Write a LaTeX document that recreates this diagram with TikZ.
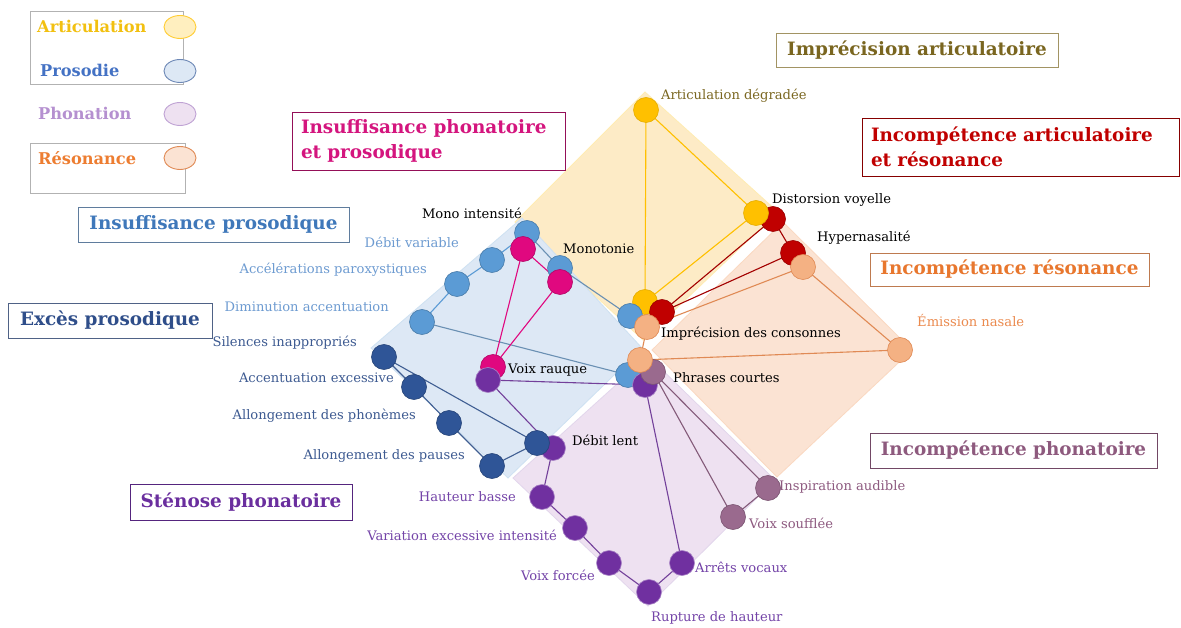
\documentclass[tikz,border=0pt]{standalone}
\usepackage{fontspec}
\setmainfont{DejaVu Serif}
\definecolor{cYel}{HTML}{FFC000}
\definecolor{cYelF}{HTML}{FDEBC6}
\definecolor{cRed}{HTML}{C00000}
\definecolor{cOra}{HTML}{F4B183}
\definecolor{cOraD}{HTML}{E08A55}
\definecolor{cOraF}{HTML}{FBE3D3}
\definecolor{cBlu}{HTML}{5B9BD5}
\definecolor{cBluF}{HTML}{DDE8F5}
\definecolor{cDbl}{HTML}{2F5597}
\definecolor{cMag}{HTML}{E0087F}
\definecolor{cPur}{HTML}{7030A0}
\definecolor{cPurF}{HTML}{EEE1F1}
\definecolor{cMau}{HTML}{9A6A8E}
\definecolor{tOlive}{HTML}{7A6620}
\definecolor{tLblue}{HTML}{6D9BD1}
\definecolor{tDblue}{HTML}{3D5A91}
\definecolor{tPur}{HTML}{7444A8}
\definecolor{tMau}{HTML}{8E5A80}
\definecolor{tOra}{HTML}{EB8A4E}
\definecolor{tMagT}{HTML}{D4157E}
\definecolor{tRedT}{HTML}{C00000}
\definecolor{tOraT}{HTML}{E8772E}
\definecolor{tBluT}{HTML}{3F78BA}
\definecolor{tDblT}{HTML}{2F4E8A}
\definecolor{tPurT}{HTML}{6A2E9E}
\definecolor{tMauT}{HTML}{8E5A7E}
\definecolor{tLegY}{HTML}{F2C010}
\definecolor{tLegB}{HTML}{4472C4}
\definecolor{tLegP}{HTML}{B590D0}
\definecolor{tLegO}{HTML}{ED7D31}
\newcommand{\labfont}{\fontsize{13.1pt}{15pt}\selectfont}
\newcommand{\ttlfont}{\bfseries\fontsize{18.4pt}{25pt}\selectfont}
\newcommand{\legfont}{\bfseries\fontsize{16.2pt}{18pt}\selectfont}
\tikzset{
  dot/.style={circle, minimum size=25pt, inner sep=0pt, line width=0.6pt},
  lab/.style={inner sep=0pt, font=\labfont},
  ttl/.style={draw, line width=0.9pt, inner sep=0pt, font=\ttlfont},
  ttltwo/.style={draw, line width=0.9pt, inner xsep=9pt, inner ysep=0pt, font=\ttlfont, align=left},
  edge/.style={line width=1.1pt},
  region/.style={line width=0.8pt},
  leg/.style={inner sep=0pt, font=\legfont, anchor=west},
  legell/.style={ellipse, minimum width=32pt, minimum height=23pt, inner sep=0pt, line width=0.9pt},
}
\usetikzlibrary{shapes.geometric}
\begin{document}
\begin{tikzpicture}[x=1pt,y=-1pt]
\useasboundingbox (0,0) rectangle (1181,628);
\fill[white] (0,0) rectangle (1181,628);
% regions
\filldraw[region, fill=cYelF, draw=cYel!30] (645,92) -- (778,212) -- (643,340) -- (515,222) -- cycle;
\filldraw[region, fill=cOraF, draw=cOra!50] (783,222) -- (912,350) -- (777,477) -- (652,350) -- cycle;
\filldraw[region, fill=cBluF, draw=cBlu!30] (522,218) -- (642,348) -- (508,478) -- (371,348) -- cycle;
\filldraw[region, fill=cPurF, draw=cPur!20] (648,356) -- (775,480) -- (648,606) -- (513,478) -- cycle;
% legend
\draw[gray!60, line width=0.8pt] (30,11) rectangle (183,84);
\draw[gray!60, line width=0.8pt] (30,143) rectangle (185,193);
\node[leg, text=tLegY] (lgA) at (37,26) {Articulation};
\node[leg, text=tLegB] (lgB) at (40,70) {Prosodie};
\node[leg, text=tLegP] (lgC) at (38,113) {Phonation};
\node[leg, text=tLegO] (lgD) at (38,158) {Résonance};
\node[legell, fill=cYel!25, draw=cYel!80] (elA) at (180,27) {};
\node[legell, fill=cBluF, draw=cDbl!70] (elB) at (180,71) {};
\node[legell, fill=cPurF, draw=cPur!45] (elC) at (180,114) {};
\node[legell, fill=cOraF, draw=cOraD] (elD) at (180,158) {};
% titles
\node[ttl, draw=tOlive!70, text=tOlive, minimum width=282pt, minimum height=34pt] (tImp) at (917,50) {Imprécision articulatoire};
\node[ttltwo, draw=tMagT!70!black, text=tMagT, text width=255pt, minimum height=58pt] (tInsPP) at (428.5,141) {Insuffisance phonatoire\\et prosodique};
\node[ttltwo, draw=tRedT!70!black, text=tRedT, text width=299pt, minimum height=58pt] (tIncAR) at (1020.5,147) {Incompétence articulatoire\\et résonance};
\node[ttl, draw=tOraT!60!gray, text=tOraT, minimum width=279pt, minimum height=33pt] (tIncR) at (1009.5,269.5) {Incompétence résonance};
\node[ttl, draw=tBluT!50!gray, text=tBluT, minimum width=271pt, minimum height=35pt] (tInsP) at (213.5,224.5) {Insuffisance prosodique};
\node[ttl, draw=tDblT!60!gray, text=tDblT, minimum width=204pt, minimum height=35pt] (tExc) at (110,320.5) {Excès prosodique};
\node[ttl, draw=tMauT!80!black, text=tMauT, minimum width=287pt, minimum height=35pt] (tIncP) at (1013.5,450.5) {Incompétence phonatoire};
\node[ttl, draw=tPurT!80!black, text=tPurT, minimum width=222pt, minimum height=36pt] (tSte) at (241,502) {Sténose phonatoire};
% node coordinates
\coordinate (A1) at (646,110);
\coordinate (A2) at (756,213);
\coordinate (A3) at (645,302);
\coordinate (R1) at (773,219);
\coordinate (R2) at (793,253);
\coordinate (R3) at (662,312);
\coordinate (O1) at (803,267);
\coordinate (O2) at (900,350);
\coordinate (O3) at (647,327);
\coordinate (O4) at (640,360);
\coordinate (B1) at (527,233);
\coordinate (B2) at (492,260);
\coordinate (B3) at (457,284);
\coordinate (B4) at (422,322);
\coordinate (B5) at (560,268);
\coordinate (B6) at (630,316);
\coordinate (B7) at (628,375);
\coordinate (D1) at (384,357);
\coordinate (D2) at (414,387);
\coordinate (D3) at (449,423);
\coordinate (D4) at (492,466);
\coordinate (D5) at (537,443);
\coordinate (M1) at (523,249);
\coordinate (M2) at (560,282);
\coordinate (M3) at (493,367);
\coordinate (P1) at (488,380);
\coordinate (P2) at (645,385);
\coordinate (P3) at (553,448);
\coordinate (P4) at (542,497);
\coordinate (P5) at (575,528);
\coordinate (P6) at (609,563);
\coordinate (P7) at (649,592);
\coordinate (P8) at (682,563);
\coordinate (V1) at (653,372);
\coordinate (V2) at (768,488);
\coordinate (V3) at (733,517);
% edges
\draw[edge, cYel] (A1) -- (A2) (A1) -- (A3) (A2) -- (A3);
\draw[edge, cRed!85!black] (R1) -- (R3) (R2) -- (R3) (R1) -- (R2);
\draw[edge, cOraD] (O1) -- (O3) (O1) -- (O2) (O2) -- (O4) (O3) -- (O4);
\draw[edge, cBlu] (B1) -- (B2) -- (B3) -- (B4);
\draw[edge, cBlu!60!gray] (B1) -- (B5) -- (B6) (B4) -- (B7);
\draw[edge, cDbl!80!gray] (D1) -- (D2) -- (D3) -- (D4) -- (D5) (D1) -- (D5);
\draw[edge, cMag] (M1) -- (M2) -- (M3) -- (M1);
\draw[edge, cPur!80!gray] (P1) -- (P2) (P1) -- (P3) -- (P4) -- (P5) -- (P6) -- (P7) -- (P8) -- (P2);
\draw[edge, cMau!85!black] (V1) -- (V2) -- (V3) -- (V1);
% dots
\node[dot, fill=cRed, draw=cRed!80!black] (nR1) at (R1) {};
\node[dot, fill=cRed, draw=cRed!80!black] (nR2) at (R2) {};
\node[dot, fill=cYel, draw=cYel!90!black] (nA1) at (A1) {};
\node[dot, fill=cYel, draw=cYel!90!black] (nA2) at (A2) {};
\node[dot, fill=cYel, draw=cYel!90!black] (nA3) at (A3) {};
\node[dot, fill=cBlu, draw=cBlu!80!black] (nB6) at (B6) {};
\node[dot, fill=cRed, draw=cRed!80!black] (nR3) at (R3) {};
\node[dot, fill=cOra, draw=cOraD] (nO1) at (O1) {};
\node[dot, fill=cOra, draw=cOraD] (nO2) at (O2) {};
\node[dot, fill=cOra, draw=cOraD] (nO3) at (O3) {};
\node[dot, fill=cBlu, draw=cBlu!80!black] (nB1) at (B1) {};
\node[dot, fill=cBlu, draw=cBlu!80!black] (nB2) at (B2) {};
\node[dot, fill=cBlu, draw=cBlu!80!black] (nB3) at (B3) {};
\node[dot, fill=cBlu, draw=cBlu!80!black] (nB4) at (B4) {};
\node[dot, fill=cBlu, draw=cBlu!80!black] (nB5) at (B5) {};
\node[dot, fill=cBlu, draw=cBlu!80!black] (nB7) at (B7) {};
\node[dot, fill=cMag, draw=cMag!80!black] (nM1) at (M1) {};
\node[dot, fill=cMag, draw=cMag!80!black] (nM2) at (M2) {};
\node[dot, fill=cMag, draw=cMag!80!black] (nM3) at (M3) {};
\node[dot, fill=cDbl, draw=cDbl!80!black] (nD1) at (D1) {};
\node[dot, fill=cDbl, draw=cDbl!80!black] (nD2) at (D2) {};
\node[dot, fill=cDbl, draw=cDbl!80!black] (nD3) at (D3) {};
\node[dot, fill=cDbl, draw=cDbl!80!black] (nD4) at (D4) {};
\node[dot, fill=cPur, draw=cPur!60] (nP3) at (P3) {};
\node[dot, fill=cDbl, draw=cDbl!80!black] (nD5) at (D5) {};
\node[dot, fill=cPur, draw=cPur!60] (nP1) at (P1) {};
\node[dot, fill=cPur, draw=cPur!60] (nP2) at (P2) {};
\node[dot, fill=cPur, draw=cPur!60] (nP4) at (P4) {};
\node[dot, fill=cPur, draw=cPur!60] (nP5) at (P5) {};
\node[dot, fill=cPur, draw=cPur!60] (nP6) at (P6) {};
\node[dot, fill=cPur, draw=cPur!60] (nP7) at (P7) {};
\node[dot, fill=cPur, draw=cPur!60] (nP8) at (P8) {};
\node[dot, fill=cMau, draw=cMau!80!black] (nV1) at (V1) {};
\node[dot, fill=cMau, draw=cMau!80!black] (nV2) at (V2) {};
\node[dot, fill=cMau, draw=cMau!80!black] (nV3) at (V3) {};
\node[dot, fill=cOra, draw=cOraD] (nO4) at (O4) {};
% labels
\node[lab, anchor=west, text=tOlive] (lA1) at (661,96) {Articulation dégradée};
\node[lab, anchor=west] (lA2) at (772,200) {Distorsion voyelle};
\node[lab, anchor=west] (lO1) at (817,238) {Hypernasalité};
\node[lab, anchor=west, text=tOra] (lO2) at (917,321) {Émission nasale};
\node[lab, anchor=west] (lA3) at (661,334) {Imprécision des consonnes};
\node[lab, anchor=west] (lP2) at (673,378) {Phrases courtes};
\node[lab, anchor=west] (lB5) at (563,249) {Monotonie};
\node[lab, anchor=east] (lB1) at (522,213) {Mono intensité};
\node[lab, anchor=east, text=tLblue] (lB2) at (459,242) {Débit variable};
\node[lab, anchor=east, text=tLblue] (lB3) at (427,270) {Accélérations paroxystiques};
\node[lab, anchor=east, text=tLblue] (lB4) at (389,307) {Diminution accentuation};
\node[lab, anchor=east, text=tDblue] (lD1) at (357,343) {Silences inappropriés};
\node[lab, anchor=east, text=tDblue] (lD2) at (394,378) {Accentuation excessive};
\node[lab, anchor=east, text=tDblue] (lD3) at (416,416) {Allongement des phonèmes};
\node[lab, anchor=east, text=tDblue] (lD4) at (465,456) {Allongement des pauses};
\node[lab, anchor=west] (lM3) at (508,370) {Voix rauque};
\node[lab, anchor=west] (lP3) at (572,440) {Débit lent};
\node[lab, anchor=east, text=tPur] (lP4) at (516,497) {Hauteur basse};
\node[lab, anchor=east, text=tPur] (lP5) at (557,535) {Variation excessive intensité};
\node[lab, anchor=east, text=tPur] (lP6) at (595,575) {Voix forcée};
\node[lab, anchor=west, text=tPur] (lP7) at (651,618) {Rupture de hauteur};
\node[lab, anchor=west, text=tPur] (lP8) at (695,567) {Arrêts vocaux};
\node[lab, anchor=west, text=tMau] (lV2) at (779,487) {Inspiration audible};
\node[lab, anchor=west, text=tMau] (lV3) at (749,523) {Voix soufflée};
\end{tikzpicture}
\end{document}
